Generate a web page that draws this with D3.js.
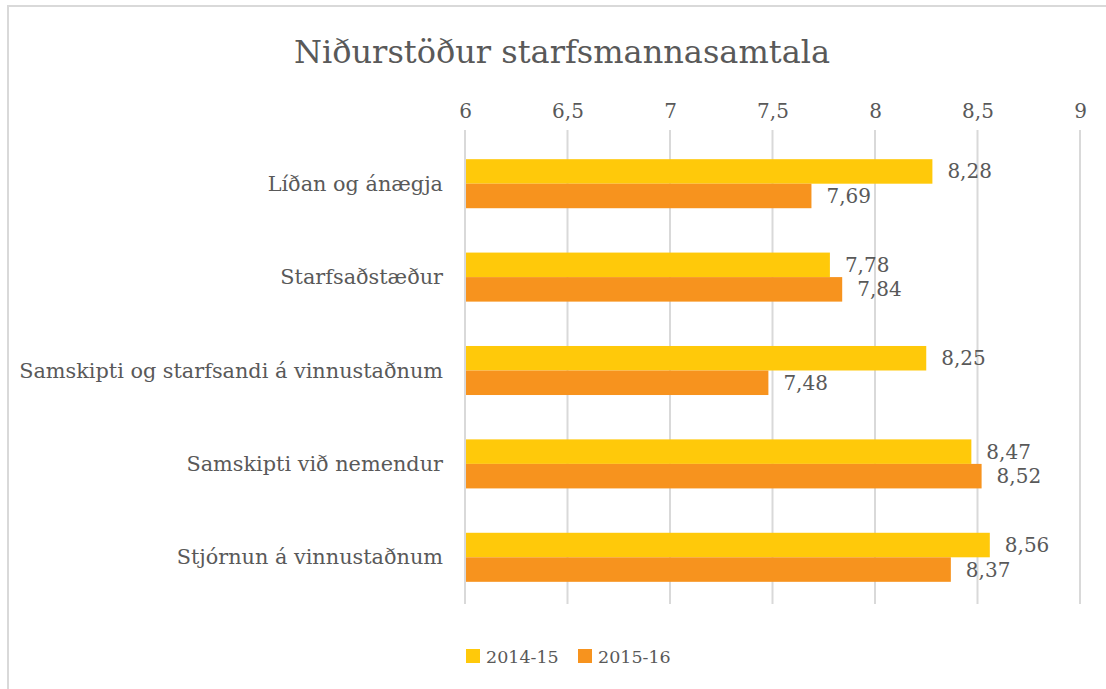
<!DOCTYPE html>
<html>
<head>
<meta charset="utf-8">
<script src="https://cdn.jsdelivr.net/npm/d3@7"></script>
<style>
  body { margin: 0; background: #fff; }
  text { font-family: "DejaVu Serif", serif; fill: #595959; }
</style>
</head>
<body>
<svg></svg>
<script>
const categories = [
    'Líðan og ánægja',
    'Starfsaðstæður',
    'Samskipti og starfsandi á vinnustaðnum',
    'Samskipti við nemendur',
    'Stjórnun á vinnustaðnum'
];
const seriesNames = ['2014-15', '2015-16'];
const values2014 = [8.28, 7.78, 8.25, 8.47, 8.56];
const values2015 = [7.69, 7.84, 7.48, 8.52, 8.37];
const ticks = [6, 6.5, 7, 7.5, 8, 8.5, 9];
const colors = ['#ffc90a', '#f7931e'];

const [width, height] = [1106, 689];
const comma = d => String(d).replace('.', ',');

const svg = d3.select('svg')
    .attr('width', width)
    .attr('height', height);

// ramminn
svg.append('rect')
    .attr('x', 8).attr('y', 6)
    .attr('width', 1120).attr('height', 700)
    .attr('fill', 'none')
    .attr('stroke', '#d9d9d9')
    .attr('stroke-width', 2);

// titill
svg.append('text')
    .attr('x', 562).attr('y', 63)
    .attr('text-anchor', 'middle')
    .style('font-size', '32px')
    .text('Niðurstöður starfsmannasamtala');

const x = d3.scaleLinear().domain([6, 9]).range([465, 1080]);
const y = d3.scaleBand().domain(categories).range([137, 604])
    .paddingInner(0.475).paddingOuter(0.2375);
const ySub = d3.scaleBand().domain(seriesNames).range([0, y.bandwidth()]);

// ásinn efst
const axis = svg.append('g')
    .attr('transform', 'translate(0,137)')
    .call(d3.axisTop(x).tickValues(ticks).tickFormat(comma).tickSize(0).tickPadding(19));
axis.select('.domain').remove();
axis.selectAll('text').style('font-size', '20px').attr('fill', '#595959');

// hnitalínur
svg.append('g').selectAll('line')
    .data(ticks)
    .enter()
    .append('line')
    .attr('x1', d => x(d)).attr('x2', d => x(d))
    .attr('y1', 130).attr('y2', 604)
    .attr('stroke', '#d9d9d9')
    .attr('stroke-width', 2);

const rows = categories.map((c, i) => ({
    category: c,
    vals: [values2014[i], values2015[i]]
}));

const group = svg.append('g').selectAll('g')
    .data(rows)
    .enter()
    .append('g')
    .attr('transform', d => `translate(0,${y(d.category)})`);

group.selectAll('rect')
    .data(d => d.vals.map((v, i) => ({ v, s: seriesNames[i], i })))
    .enter()
    .append('rect')
    .attr('x', x(6) + 1)
    .attr('y', d => ySub(d.s))
    .attr('width', d => x(d.v) - x(6) - 1)
    .attr('height', ySub.bandwidth())
    .attr('fill', d => colors[d.i]);

group.selectAll('text.val')
    .data(d => d.vals.map((v, i) => ({ v, s: seriesNames[i], i })))
    .enter()
    .append('text')
    .attr('class', 'val')
    .attr('x', d => x(d.v) + 15)
    .attr('y', d => ySub(d.s) + ySub.bandwidth() / 2 + 7)
    .style('font-size', '20px')
    .text(d => comma(d.v));

// flokkaheiti
svg.append('g').selectAll('text')
    .data(categories)
    .enter()
    .append('text')
    .attr('x', 443)
    .attr('y', d => y(d) + y.bandwidth() / 2 + 7)
    .attr('text-anchor', 'end')
    .style('font-size', '20.8px')
    .text(d => d);

// skýringar
const legend = svg.append('g').selectAll('g')
    .data(seriesNames)
    .enter()
    .append('g')
    .attr('transform', (d, i) => `translate(${466 + i * 112},649)`);
legend.append('rect')
    .attr('width', 14).attr('height', 14)
    .attr('fill', (d, i) => colors[i]);
legend.append('text')
    .attr('x', 20).attr('y', 14)
    .style('font-size', '17.5px')
    .text(d => d);
</script>
</body>
</html>
